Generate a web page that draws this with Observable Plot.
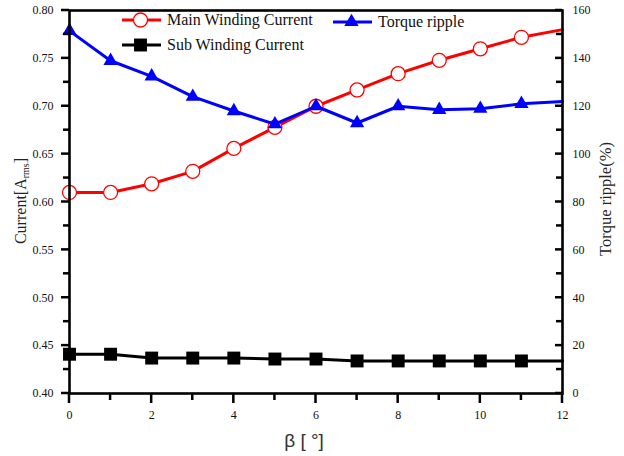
<!DOCTYPE html>
<html><head><meta charset="utf-8">
<script src="https://cdn.jsdelivr.net/npm/d3@7"></script>
<script src="https://cdn.jsdelivr.net/npm/@observablehq/plot@0.6"></script>
<style>
body{margin:0;background:#fff;}
#wrap{width:624px;height:456px;}
#wrap svg{font-family:"Liberation Serif", serif;font-size:12px;color:#111;background:#fff;}
</style></head><body><div id="wrap"></div>
<script>
// ---- data ----
const beta = [0,1,2,3,4,5,6,7,8,9,10,11,12];
const mainCurrent = [0.610,0.610,0.619,0.632,0.656,0.678,0.700,0.717,0.734,0.748,0.760,0.772,0.780];
const subCurrent  = [0.441,0.441,0.437,0.437,0.437,0.436,0.436,0.434,0.434,0.434,0.434,0.434,0.434];
const torqueRipple = [151.5,139,132.5,124,118,112.5,120,113,120,118.5,119,121,122];
const currentTicks = [0.40,0.45,0.50,0.55,0.60,0.65,0.70,0.75,0.80];
const currentMinor = [0.425,0.475,0.525,0.575,0.625,0.675,0.725,0.775];
const rippleTicks = [0,20,40,60,80,100,120,140,160];
const rippleMinor = [10,30,50,70,90,110,130,150];
const betaTicks = [0,2,4,6,8,10,12];
const betaMinor = [1,3,5,7,9,11];
const seriesNames = ["Main Winding Current","Sub Winding Current","Torque ripple"];

// ripple (right axis) mapped onto the current scale
const toCur = d3.scaleLinear([0,160],[0.40,0.80]);
const rows = beta.map((b,i)=>({beta:b, main:mainCurrent[i], sub:subCurrent[i], ripple:toCur(torqueRipple[i])}));
const markRows = rows.filter(d => d.beta < 12);

const font = '"Liberation Serif", serif';
const chart = Plot.plot({
  width:624, height:456, marginLeft:69, marginRight:62, marginTop:10, marginBottom:63,
  x:{domain:[0,12]},
  y:{domain:[0.40,0.80]},
  marks:[
    Plot.line(rows,{x:"beta", y:"main", stroke:"#ff0000", strokeWidth:3}),
    Plot.dot(markRows,{x:"beta", y:"main", r:7, stroke:"#ff0000", strokeWidth:1.3, fill:"#fff"}),
    Plot.line(rows,{x:"beta", y:"sub", stroke:"#000", strokeWidth:3}),
    Plot.dot(markRows,{x:"beta", y:"sub", r:7.3, symbol:"square", fill:"#000"}),
    Plot.line(rows,{x:"beta", y:"ripple", stroke:"#0000ff", strokeWidth:3}),
    Plot.dot(markRows,{x:"beta", y:"ripple", r:5.3, symbol:"triangle", fill:"#0000ff"}),
    Plot.axisX(betaTicks,{tickSize:0, tickPadding:17, label:null, tickFormat:d=>d}),
    Plot.axisY(currentTicks,{anchor:"left", tickSize:0, tickPadding:16, label:null, tickFormat:d3.format(".2f")}),
    Plot.axisY(rippleTicks.map(toCur),{anchor:"right", tickSize:0, tickPadding:10, label:null, tickFormat:d=>Math.round(toCur.invert(d))}),
    Plot.frame({stroke:"#000", strokeWidth:2.6})
  ]
});
document.getElementById("wrap").appendChild(chart);

const svg = d3.select(chart);
const xs = chart.scale("x"), ys = chart.scale("y");
const X0 = xs.apply(0), X1 = xs.apply(12), Y0 = ys.apply(0.40);
const T = 2.5; // tick thickness

// ---- tick marks (filled rects), positioned with Plot's scales ----
const tg = svg.append("g").attr("fill","#000");
const vt = (x, len) => tg.append("rect").attr("x",x-T/2).attr("y",Y0).attr("width",T).attr("height",len);
const ht = (y, x, len) => tg.append("rect").attr("x",x).attr("y",y-T/2).attr("width",len).attr("height",T);
betaTicks.forEach(v=>vt(xs.apply(v),10));
betaMinor.forEach(v=>vt(xs.apply(v),7));
currentTicks.forEach(v=>ht(ys.apply(v),X0-8,8));
currentMinor.forEach(v=>ht(ys.apply(v),X0-6,6));
rippleTicks.forEach(v=>ht(ys.apply(toCur(v)),X1-7,7));
rippleMinor.forEach(v=>ht(ys.apply(toCur(v)),X1-6,6));

// ---- titles & legend ----
const lt = svg.append("text").attr("transform","translate(26,201) rotate(-90)")
  .attr("text-anchor","middle").attr("font-family",font).attr("font-size",16).attr("fill","#222");
lt.append("tspan").text("Current[A");
lt.append("tspan").attr("font-size",10).attr("dy",3).text("rms");
lt.append("tspan").attr("dy",-3).text("]");
svg.append("text").attr("transform","translate(611,199) rotate(-90)")
  .attr("text-anchor","middle").attr("font-family",font).attr("font-size",16.5).attr("fill","#222")
  .text("Torque ripple(%)");
svg.append("text").attr("x",304).attr("y",447).attr("text-anchor","middle")
  .attr("font-family",'"Liberation Sans", sans-serif').attr("font-size",19).attr("fill","#333")
  .text("β [ °]");

const leg = [
  {name:seriesNames[0], x:122, y:20, color:"#ff0000", sym:"circle"},
  {name:seriesNames[1], x:122, y:45, color:"#000", sym:"square"},
  {name:seriesNames[2], x:333, y:22, color:"#0000ff", sym:"triangle"}
];
leg.forEach(l=>{
  const g = svg.append("g");
  g.append("rect").attr("x",l.x).attr("y",l.y-1.5).attr("width",39).attr("height",3).attr("fill",l.color);
  const cx = l.x+18.5;
  if(l.sym==="circle") g.append("circle").attr("cx",cx).attr("cy",l.y).attr("r",7).attr("fill","#fff").attr("stroke",l.color).attr("stroke-width",1.3);
  else g.append("path").attr("transform",`translate(${cx},${l.y})`)
    .attr("d",d3.symbol(l.sym==="square"?d3.symbolSquare:d3.symbolTriangle, Math.PI*(l.sym==="square"?7.3:5.3)**2)()).attr("fill",l.color);
  g.append("text").attr("x",l.x+45).attr("y",l.y+5).attr("text-anchor","start")
    .attr("font-family",font).attr("font-size",16).attr("fill","#111").text(l.name);
});
</script></body></html>
